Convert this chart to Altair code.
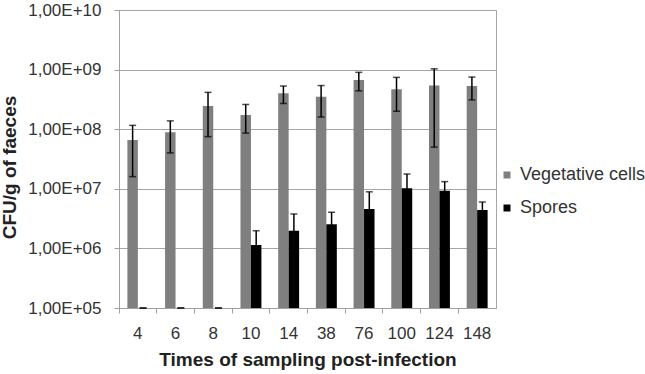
import altair as alt
import pandas as pd

# Sampling times (hours post-infection)
times = ["4", "6", "8", "10", "14", "38", "76", "100", "124", "148"]

# Vegetative cells, CFU/g of faeces: mean and standard deviation
veg_mean = [6.6e7, 8.9e7, 2.45e8, 1.73e8, 4.0e8, 3.5e8, 6.7e8, 4.7e8, 5.4e8, 5.3e8]
veg_sd = [5.0e7, 4.9e7, 1.7e8, 8.7e7, 1.3e8, 1.9e8, 2.3e8, 2.7e8, 4.9e8, 2.2e8]

# Spores, CFU/g of faeces: mean and standard deviation
spore_mean = [0, 0, 0, 1.14e6, 1.98e6, 2.54e6, 4.6e6, 1.02e7, 9.3e6, 4.4e6]
spore_sd = [0, 0, 0, 8.4e5, 1.8e6, 1.5e6, 4.3e6, 7.5e6, 3.9e6, 1.6e6]

series = ["Vegetative cells", "Spores"]
colors = ["#7f7f7f", "#000000"]
y_min, y_max = 1e5, 1e10

rows = []
for i, t in enumerate(times):
    for name, m, s in ((series[0], veg_mean[i], veg_sd[i]), (series[1], spore_mean[i], spore_sd[i])):
        rows.append({
            "time": t,
            "series": name,
            "mean": m,
            "lo": min(max(m - s, y_min), y_max),
            "hi": min(max(m + s, y_min), y_max),
            "base": y_min,
        })
df = pd.DataFrame(rows)
bars_df = df[df["mean"] > 0]

font = "Liberation Sans"
W, H = 377, 298

x_enc = alt.X(
    "time:N",
    sort=times,
    scale=alt.Scale(paddingInner=0, paddingOuter=0),
    axis=alt.Axis(
        title="Times of sampling post-infection",
        titleFont=font, titleFontSize=19, titleFontWeight="bold", titleColor="#222",
        titlePadding=9,
        labelFont=font, labelFontSize=17, labelColor="#333", labelAngle=0, labelPadding=12,
        bandPosition=0, tickSize=5, tickColor="#a0a0a0", domainColor="#a0a0a0",
        grid=False,
    ),
)
xo_enc = alt.XOffset("series:N", sort=series, scale=alt.Scale(paddingInner=0, paddingOuter=0.8))

y_scale = alt.Scale(type="log", domain=[y_min, y_max], nice=False)
exp_expr = "round(log(datum.value)/LN10)"
y_axis = alt.Axis(
    title="CFU/g of faeces",
    titleFont=font, titleFontSize=19, titleFontWeight="bold", titleColor="#222",
    titleX=-110, titleY=157, titleBaseline="middle", titleAngle=270,
    values=[1e5, 1e6, 1e7, 1e8, 1e9, 1e10],
    labelExpr="'1,00E+' + (" + exp_expr + " < 10 ? '0' : '') + " + exp_expr,
    labelFont=font, labelFontSize=17, labelColor="#333", labelPadding=13,
    tickSize=5, tickColor="#a0a0a0", domainColor="#a0a0a0",
    grid=True, gridColor="#a6a6a6", gridWidth=1,
)

bars = alt.Chart(bars_df).mark_bar().encode(
    x=x_enc,
    xOffset=xo_enc,
    y=alt.Y("mean:Q", scale=y_scale, axis=y_axis),
    y2="base:Q",
    color=alt.Color(
        "series:N",
        sort=series,
        scale=alt.Scale(domain=series, range=colors),
        legend=alt.Legend(
            title=None, orient="none", legendX=379, legendY=156,
            symbolType="square", symbolSize=49, symbolStrokeWidth=0,
            labelFont=font, labelFontSize=18, labelColor="#333",
            labelOffset=4, rowPadding=15, labelLimit=200,
        ),
    ),
)

stems = alt.Chart(df).mark_rule(color="black", strokeWidth=1.5).encode(
    x=x_enc, xOffset=xo_enc,
    y=alt.Y("lo:Q", scale=y_scale),
    y2="hi:Q",
)
cap_top = alt.Chart(df).mark_tick(color="black", size=7, thickness=1.5, orient="horizontal").encode(
    x=x_enc, xOffset=xo_enc, y=alt.Y("hi:Q", scale=y_scale),
)
cap_bottom = alt.Chart(df).mark_tick(color="black", size=7, thickness=1.5, orient="horizontal").encode(
    x=x_enc, xOffset=xo_enc, y=alt.Y("lo:Q", scale=y_scale),
)

chart = (
    alt.layer(bars, stems, cap_top, cap_bottom)
    .properties(
        width=W, height=H,
        autosize=alt.AutoSizeParams(type="none"),
        padding={"left": 119, "top": 10, "right": 149, "bottom": 66},
        background="white",
    )
    .configure_view(stroke="#a6a6a6", strokeWidth=1)
)

chart.save("out.html", embed_options={"renderer": "svg", "actions": False})
